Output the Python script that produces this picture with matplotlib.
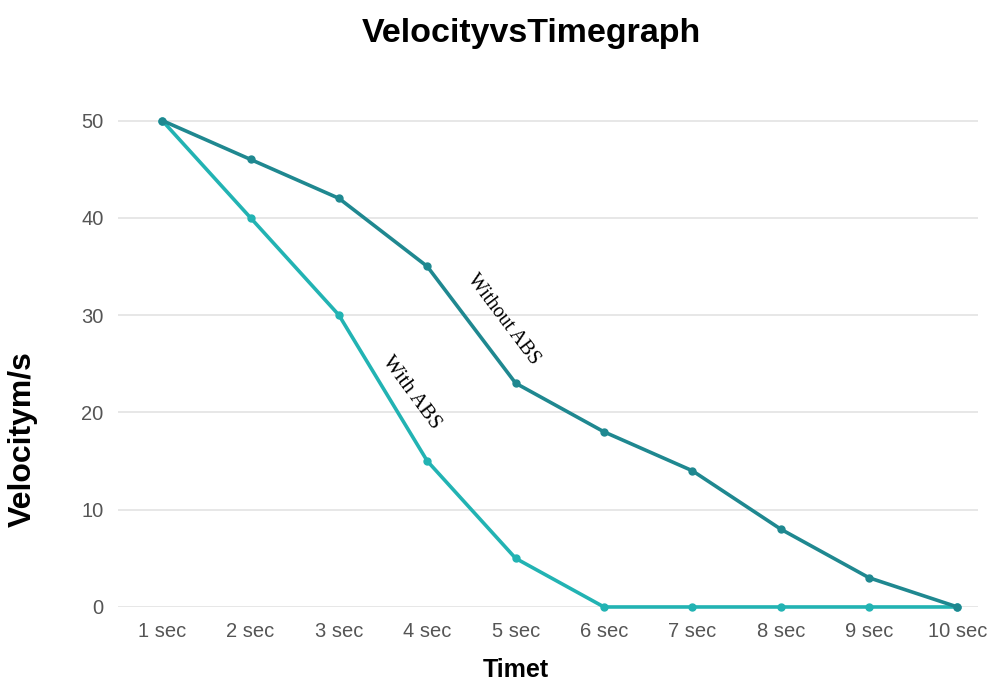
import matplotlib
matplotlib.use("Agg")
import matplotlib.pyplot as plt

# data
times = ['1 sec', '2 sec', '3 sec', '4 sec', '5 sec', '6 sec', '7 sec', '8 sec', '9 sec', '10 sec']
without_abs = [50, 46, 42, 35, 23, 18, 14, 8, 3, 0]
with_abs = [50, 40, 30, 15, 5, 0, 0, 0, 0, 0]
y_ticks = [0, 10, 20, 30, 40, 50]

plt.rcParams['font.family'] = ['Liberation Sans', 'DejaVu Sans']

fig = plt.figure(figsize=(9.94, 6.82), dpi=100)
ax = fig.add_axes([0.1187, 0.110, 0.865, 0.729])

x = list(range(1, len(times) + 1))
ax.plot(x, with_abs, color='#22b3b3', lw=2.6, marker='o', ms=5, clip_on=False, zorder=3)
ax.plot(x, without_abs, color='#1f8890', lw=2.6, marker='o', ms=5, clip_on=False, zorder=4)

ax.set_xlim(0.5, 10.23)
ax.set_ylim(0, 51.1)
ax.set_xticks(x)
ax.set_xticklabels(times)
ax.set_yticks(y_ticks)
ax.grid(axis='y', color='#e3e3e3', lw=1.2)
ax.set_axisbelow(True)
for s in ax.spines.values():
    s.set_visible(False)
ax.tick_params(length=0, colors='#555555', labelsize=14.5)
ax.tick_params(axis='y', pad=10.5)
ax.tick_params(axis='x', pad=11)

# line labels written along the curves
ax.text(4.86, 29.5, 'Without ABS', family='Liberation Serif', fontsize=14.5,
        rotation=-53, ha='center', va='center')
ax.text(3.82, 22.0, 'With ABS', family='Liberation Serif', fontsize=15,
        rotation=-53.5, ha='center', va='center')

fig.text(0.535, 0.938, 'VelocityvsTimegraph', fontsize=24.5, fontweight='bold',
         ha='center', va='baseline')
fig.text(0.023, 0.356, 'Velocitym/s', fontsize=23, fontweight='bold', rotation=90,
         ha='center', va='center')
fig.text(0.519, 0.008, 'Timet', fontsize=18, fontweight='bold', ha='center', va='baseline')

fig.savefig('out.png', dpi=100)
